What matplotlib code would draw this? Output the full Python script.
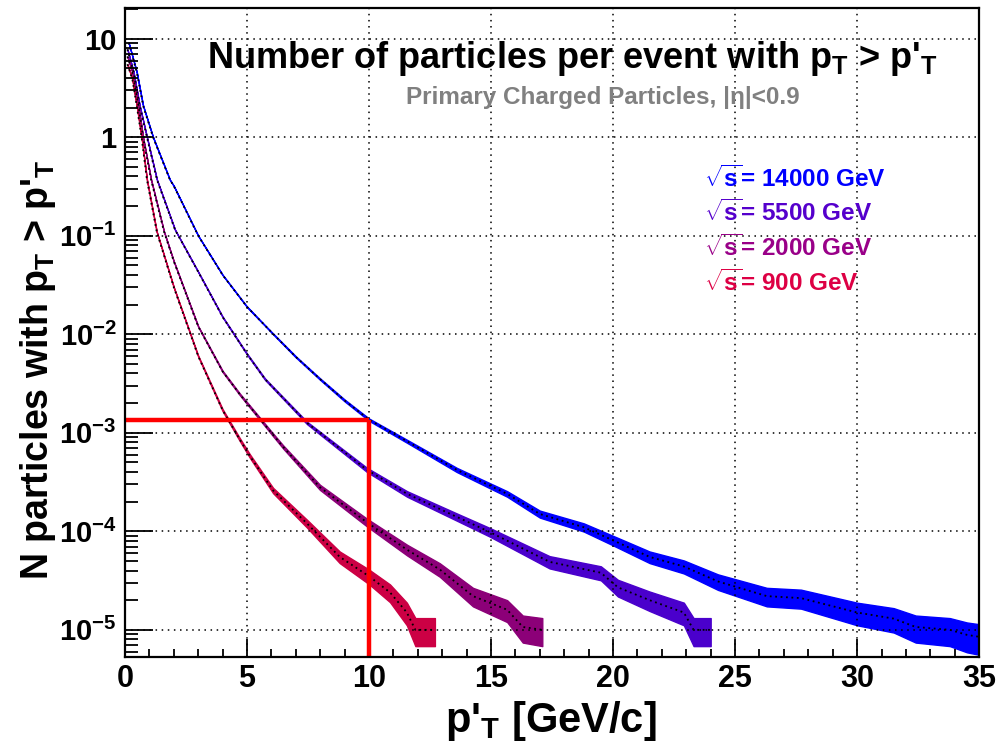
import numpy as np
import matplotlib
matplotlib.use("Agg")
import matplotlib.pyplot as plt
from matplotlib.ticker import LogLocator, NullFormatter, MultipleLocator

plt.rcParams['font.family'] = ['Liberation Sans', 'DejaVu Sans']
plt.rcParams['font.weight'] = 'bold'
plt.rcParams['axes.labelweight'] = 'bold'
plt.rcParams['mathtext.fontset'] = 'custom'
plt.rcParams['mathtext.rm'] = 'Liberation Sans:bold'
plt.rcParams['mathtext.it'] = 'Liberation Sans:bold'
plt.rcParams['mathtext.bf'] = 'Liberation Sans:bold'

# integrated spectra N(pT > pT')
pt_14000 = [0.15, 0.48, 0.74, 1.15, 1.84, 2.0, 3.0, 4.0, 5.0, 6.0, 7.0, 8.0, 9.0, 10.0,
            11.56, 13.6, 15.66, 17.0, 18.8, 20.0, 21.5, 22.9, 24.3, 26.3, 27.7, 30.0,
            31.5, 32.4, 33.8, 34.5, 35.0]
n_14000 = [9.1, 4.6, 2.1, 1.0, 0.37, 0.32, 0.1, 0.04, 0.019, 0.0105, 5.9e-3, 3.5e-3,
           2.13e-3, 1.36e-3, 8.2e-4, 4.2e-4, 2.4e-4, 1.5e-4, 1.1e-4, 8.1e-5, 5.5e-5,
           4.4e-5, 3.1e-5, 2.2e-5, 2.1e-5, 1.5e-5, 1.3e-5, 1.07e-5, 1.0e-5, 8.9e-6, 8.5e-6]

pt_5500 = [0.1, 0.35, 0.6, 0.9, 1.31, 2.05, 3.0, 4.0, 5.0, 5.74, 7.46, 9.92, 11.56, 13.6,
           14.96, 17.4, 19.5, 20.2, 21.5, 22.9, 23.3, 24.0]
n_5500 = [7.8, 4.6, 2.1, 1.0, 0.37, 0.115, 0.043, 0.015, 6.3e-3, 3.5e-3, 1.26e-3, 4.2e-4,
          2.4e-4, 1.4e-4, 9.8e-5, 4.9e-5, 3.8e-5, 2.7e-5, 2.0e-5, 1.5e-5, 1.0e-5, 1.0e-5]

pt_2000 = [0.1, 0.3, 0.55, 0.74, 1.07, 1.6, 2.0, 3.0, 4.0, 4.71, 6.0, 6.48, 7.99, 9.92,
           11.56, 12.9, 14.26, 15.66, 16.3, 17.1]
n_2000 = [6.6, 4.6, 2.1, 1.0, 0.37, 0.11, 0.055, 0.012, 4.2e-3, 2.45e-3, 1.0e-3, 7.2e-4,
          2.8e-4, 1.23e-4, 6.5e-5, 4.1e-5, 2.2e-5, 1.6e-5, 1.07e-5, 1.0e-5]

pt_900 = [0.1, 0.3, 0.48, 0.68, 0.9, 1.3, 2.0, 3.0, 4.0, 4.71, 5.12, 6.07, 7.46,
          8.8, 10.0, 10.86, 11.55, 11.9, 12.7]
n_900 = [5.5, 3.9, 2.1, 1.0, 0.37, 0.11, 0.03, 6.0e-3, 1.7e-3, 8.5e-4, 5.8e-4, 2.6e-4,
         1.2e-4, 5.5e-5, 3.5e-5, 2.4e-5, 1.5e-5, 1.0e-5, 1.0e-5]

energies = ["14000", "5500", "2000", "900"]
n_events = 1.0e6  # sets the statistical error band

# red marker lines
marker_pt = 10.0
marker_n = 1.36e-3

band_colors = ['#0000ff', '#4a00cc', '#8c0078', '#cc0044']
text_colors = ['#0000ff', '#5500cc', '#990088', '#dd0044']

fig = plt.figure(figsize=(9.99, 7.52), dpi=100)
ax = fig.add_axes([0.1251, 0.1263, 0.855, 0.8634])

series = [(pt_14000, n_14000), (pt_5500, n_5500), (pt_2000, n_2000), (pt_900, n_900)]
for (pt, n), c in zip(series, band_colors):
    pt = np.array(pt)
    n = np.array(n)
    rel = 1.0 / np.sqrt(n * n_events)
    ax.fill_between(pt, n * (1 - rel), n * (1 + rel), color=c, lw=1.0, ec=c)
    ax.plot(pt, n, color='k', ls=(0, (1, 2)), lw=1.3)

ax.plot([0, marker_pt], [marker_n, marker_n], color='#ff0000', lw=3.2, solid_capstyle='butt')
ax.plot([marker_pt, marker_pt], [5.3e-6, marker_n], color='#ff0000', lw=3.2, solid_capstyle='butt')

ax.set_yscale('log')
ax.set_xlim(0, 35)
ax.set_ylim(5.3e-6, 20.6)

ax.xaxis.set_major_locator(MultipleLocator(5))
ax.xaxis.set_minor_locator(MultipleLocator(1))
yt = [1e-5, 1e-4, 1e-3, 1e-2, 1e-1, 1, 10]
ax.set_yticks(yt)
ax.set_yticklabels([r'$10^{-5}$', r'$10^{-4}$', r'$10^{-3}$', r'$10^{-2}$', r'$10^{-1}$', '1', '10'])
ax.yaxis.set_minor_locator(LogLocator(base=10, subs=np.arange(2, 10), numticks=20))
ax.yaxis.set_minor_formatter(NullFormatter())

ax.grid(True, which='major', color='k', ls=(0, (1, 3)), lw=1.1)
ax.tick_params(axis='both', which='both', direction='in', top=False, right=False,
               width=1.3)
ax.tick_params(axis='y', which='major', length=20, pad=6, labelsize=21)
ax.tick_params(axis='y', which='minor', length=9)
ax.tick_params(axis='x', which='major', length=13, pad=5, labelsize=22)
ax.tick_params(axis='x', which='minor', length=6)
for s in ax.spines.values():
    s.set_linewidth(1.6)

ax.set_xlabel(r"p'$_\mathrm{T}$ [GeV/c]", fontsize=30)
ax.set_ylabel(r"N particles with p$_\mathrm{T}$ > p'$_\mathrm{T}$", fontsize=27)
ax.xaxis.set_label_coords(0.499, -0.064)
ax.yaxis.set_label_coords(-0.078, 0.442)

fig.text(0.207, 0.9096, r"Number of particles per event with p$_\mathrm{T}$ > p'$_\mathrm{T}$",
         fontsize=26, ha='left', va='baseline')
fig.text(0.603, 0.862, "Primary Charged Particles, |\u03b7|<0.9", fontsize=17.5,
         color='#808080', ha='center', va='baseline')

for i, (e, c) in enumerate(zip(energies, text_colors)):
    fig.text(0.705, 0.752 - i * 0.0462, r"$\sqrt{s}$= " + e + " GeV", fontsize=17.5,
             color=c, ha='left', va='baseline')

fig.savefig('out.png', dpi=100)
